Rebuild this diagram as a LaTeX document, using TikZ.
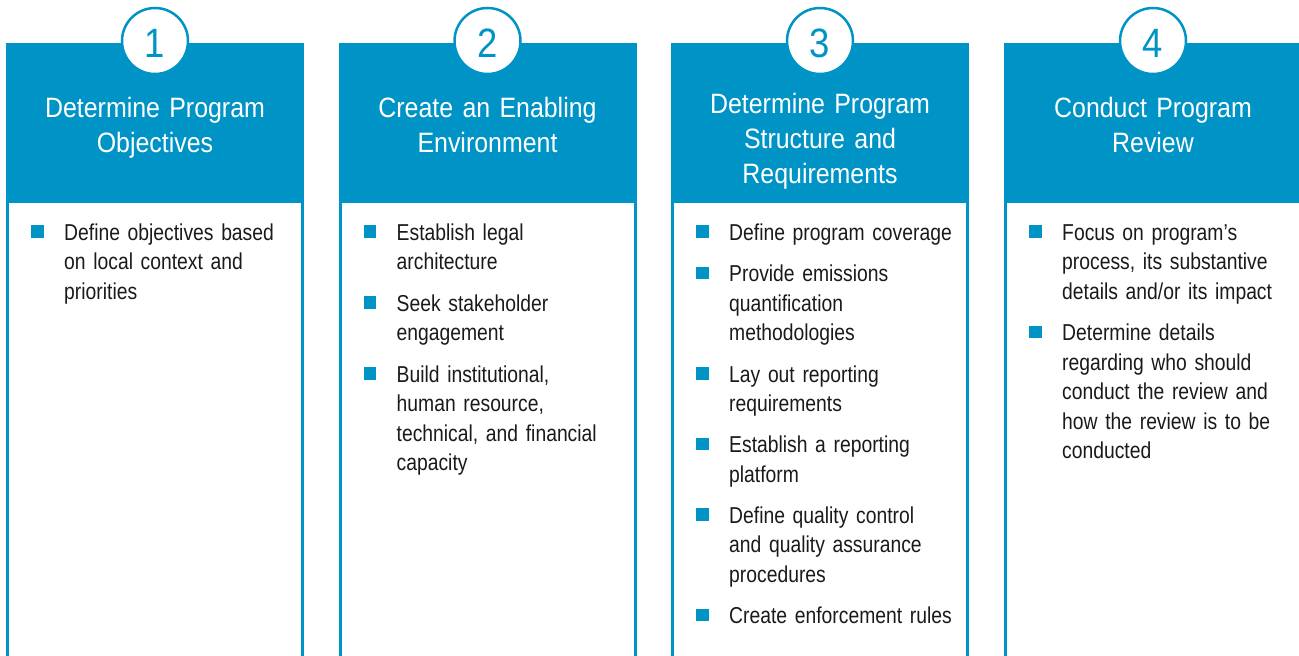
\documentclass[tikz,border=0pt]{standalone}
\usepackage{fontspec}
\setmainfont{Liberation Sans}
\newfontfamily\condfont[FakeStretch=0.84,WordSpace=0.8]{Liberation Sans}
\newfontfamily\headfont[FakeStretch=0.89,WordSpace=0.8]{Liberation Sans}
\definecolor{brand}{RGB}{0,148,198}
\definecolor{ink}{RGB}{26,26,26}
\newcommand\bitem[4]{%
  \node[bsq] (#1s) at (#2+31.5, #3-8.5) {};
  \node[btxt] (#1) at (#2+58, #3) {#4};}
\begin{document}
\begin{tikzpicture}[x=1pt,y=-1pt,
  hdr/.style={fill=brand, draw=none},
  side/.style={draw=brand, line width=3pt},
  numc/.style={circle, draw=brand, fill=white, line width=2.5pt, minimum size=66pt, inner sep=0pt},
  numt/.style={text=brand, font=\headfont\fontsize{41}{41}\selectfont, anchor=base, inner sep=0pt},
  htxt/.style={text=white, text width=290pt, align=center, font=\headfont\fontsize{28}{35}\selectfont, anchor=base, inner sep=0pt},
  btxt/.style={text=ink, text width=240pt, align=left, font=\condfont\fontsize{23}{29.5}\selectfont, anchor=base west, inner sep=0pt},
  bsq/.style={fill=brand, minimum size=12.5pt, inner sep=0pt, draw=none}]
\useasboundingbox (0,0) rectangle (1299,656);
\foreach \L/\n in {6/1, 338.5/2, 671/3, 1004/4}{
  \fill[hdr] (\L,43) rectangle (\L+298,202.5);
  \draw[side] (\L+1.5,202) -- (\L+1.5,670);
  \draw[side] (\L+296.5,202) -- (\L+296.5,670);
  \node[numc] (c\n) at (\L+149,41) {};
  \node[numt] (n\n) at (\L+149,57.5) {\n};
}
\node[htxt] (h1) at (155,117) {Determine Program\\Objectives};
\node[htxt] (h2) at (487.5,117) {Create an Enabling\\Environment};
\node[htxt] (h3) at (820,113) {Determine Program\\Structure and\\Requirements};
\node[htxt] (h4) at (1153,117) {Conduct Program\\Review};

\bitem{a1}{6}{240}{Define objectives based\\on local context and\\priorities}

\bitem{b1}{338.5}{240}{Establish legal\\architecture}
\bitem{b2}{338.5}{311}{Seek stakeholder\\engagement}
\bitem{b3}{338.5}{382}{Build institutional,\\human resource,\\technical, and financial\\capacity}

\bitem{c1}{671}{240}{Define program coverage}
\bitem{c2}{671}{281.5}{Provide emissions\\quantification\\methodologies}
\bitem{c3}{671}{382}{Lay out reporting\\requirements}
\bitem{c4}{671}{452.5}{Establish a reporting\\platform}
\bitem{c5}{671}{523}{Define quality control\\and quality assurance\\procedures}
\bitem{c6}{671}{623.5}{Create enforcement rules}

\bitem{d1}{1004}{240}{Focus on program’s\\process, its substantive\\details and/or its impact}
\bitem{d2}{1004}{340.5}{Determine details\\regarding who should\\conduct the review and\\how the review is to be\\conducted}
\end{tikzpicture}
\end{document}
